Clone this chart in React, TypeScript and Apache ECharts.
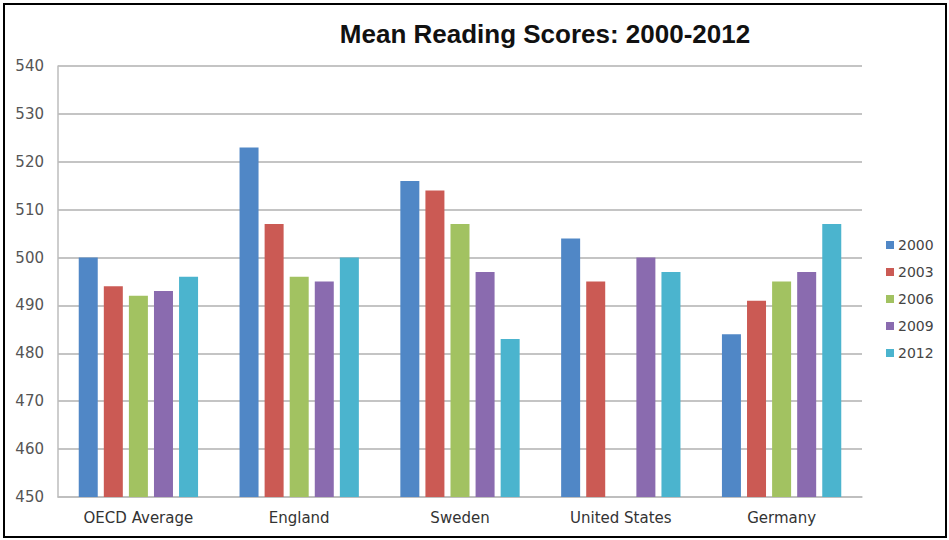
import React, { useEffect, useRef } from "react";
import * as echarts from "echarts";

const categories = ["OECD Average", "England", "Sweden", "United States", "Germany"];
const years = ["2000", "2003", "2006", "2009", "2012"];
const scores2000 = [500, 523, 516, 504, 484];
const scores2003 = [494, 507, 514, 495, 491];
const scores2006 = [492, 496, 507, null, 495];
const scores2009 = [493, 495, 497, 500, 497];
const scores2012 = [496, 500, 483, 497, 507];
const yearColors = ["#5087C6", "#CB5A54", "#A2C261", "#8A6BAF", "#4BB4CE"];

const seriesValues = [scores2000, scores2003, scores2006, scores2009, scores2012];

export default function App() {
  const ref = useRef<HTMLDivElement>(null);

  useEffect(() => {
    if (!ref.current) return;
    const chart = echarts.init(ref.current, undefined, { renderer: "svg" });
    chart.setOption({
      animation: false,
      backgroundColor: "#ffffff",
      title: {
        text: "Mean Reading Scores: 2000-2012",
        left: 540,
        top: 16,
        textAlign: "center",
        textStyle: {
          fontFamily: "Liberation Sans",
          fontSize: 26,
          fontWeight: "bold",
          color: "#111111",
        },
      },
      grid: { left: 58, right: 87, top: 66, bottom: 43, containLabel: false },
      legend: {
        orient: "vertical",
        left: 881,
        top: 233,
        itemWidth: 8,
        itemHeight: 8,
        itemGap: 13,
        icon: "rect",
        data: years,
        textStyle: {
          fontFamily: "DejaVu Sans",
          fontSize: 14,
          color: "#444444",
          padding: [0, 0, 0, -1],
        },
      },
      xAxis: {
        type: "category",
        data: categories,
        axisLine: { show: true, lineStyle: { color: "#bdbdbd", width: 1.5 } },
        axisTick: { show: false },
        axisLabel: {
          fontFamily: "DejaVu Sans",
          fontSize: 15,
          color: "#333333",
          margin: 13,
        },
      },
      yAxis: {
        type: "value",
        min: 450,
        max: 540,
        interval: 10,
        axisLine: { show: true, lineStyle: { color: "#bdbdbd", width: 1.5 } },
        axisTick: { show: false },
        splitLine: { lineStyle: { color: "#c4c4c4", width: 1.8 } },
        axisLabel: {
          fontFamily: "DejaVu Sans",
          fontSize: 15,
          color: "#555555",
          margin: 14,
        },
      },
      series: years.map((y, i) => ({
        name: y,
        type: "bar",
        data: seriesValues[i],
        barWidth: 19,
        barGap: "32%",
        itemStyle: { color: yearColors[i] },
      })),
      graphic: [
        {
          type: "rect",
          shape: { x: 4, y: 4, width: 942, height: 533 },
          style: { fill: "none", stroke: "#000000", lineWidth: 2 },
          silent: true,
        },
      ],
    });
    return () => chart.dispose();
  }, []);

  return (
    <div
      ref={ref}
      style={{ position: "absolute", left: 0, top: 0, width: 949, height: 540 }}
    />
  );
}
